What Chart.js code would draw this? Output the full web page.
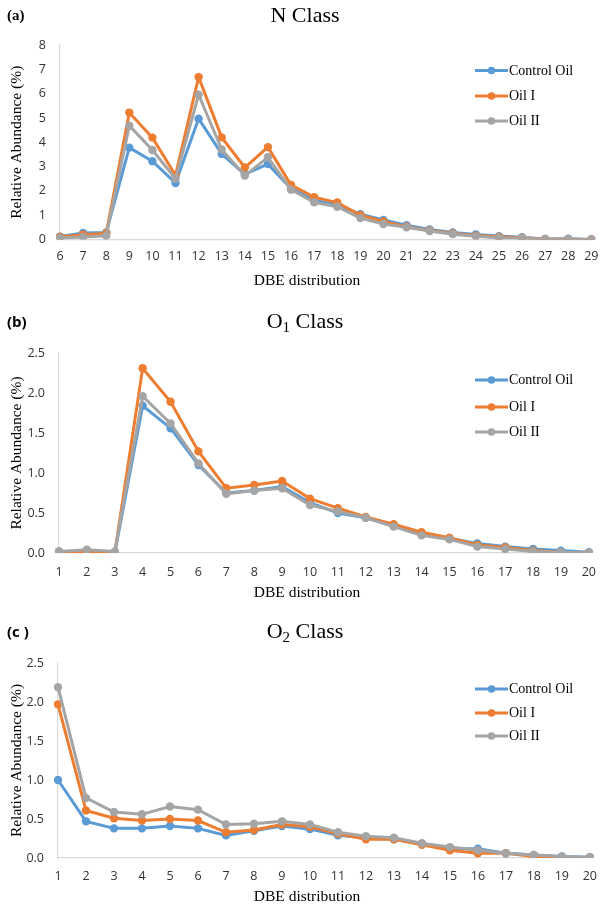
<!DOCTYPE html>
<html>
<head>
<meta charset="utf-8">
<script src="https://cdn.jsdelivr.net/npm/chart.js@4.4.1/dist/chart.umd.min.js"></script>
<style>
  html, body { margin: 0; padding: 0; background: #fff; }
  #wrap { position: relative; width: 608px; height: 906px; overflow: hidden; }
  canvas { position: absolute; left: 0; }
</style>
</head>
<body>
<div id="wrap">
  <canvas id="panelA" width="608" height="300" style="top:0px"></canvas>
  <canvas id="panelB" width="608" height="305" style="top:300px"></canvas>
  <canvas id="panelC" width="608" height="301" style="top:605px"></canvas>
</div>
<script>
// DBE categories
const dbeN = ['6','7','8','9','10','11','12','13','14','15','16','17','18','19','20','21','22','23','24','25','26','27','28','29'];
const dbeO = ['1','2','3','4','5','6','7','8','9','10','11','12','13','14','15','16','17','18','19','20'];

// Series names
const seriesNames = ['Control Oil', 'Oil I', 'Oil II'];

// N class relative abundance (%)
const nControl = [0.12, 0.27, 0.29, 3.78, 3.22, 2.32, 4.97, 3.52, 2.68, 3.10, 2.10, 1.62, 1.42, 1.04, 0.80, 0.59, 0.41, 0.29, 0.21, 0.14, 0.09, 0.02, 0.03, 0.00];
const nOilI    = [0.10, 0.20, 0.25, 5.22, 4.19, 2.64, 6.68, 4.20, 2.96, 3.80, 2.24, 1.74, 1.52, 1.00, 0.74, 0.53, 0.37, 0.25, 0.16, 0.11, 0.07, 0.02, 0.01, 0.00];
const nOilII   = [0.06, 0.10, 0.15, 4.68, 3.68, 2.50, 5.96, 3.70, 2.63, 3.38, 2.05, 1.53, 1.35, 0.88, 0.64, 0.50, 0.35, 0.22, 0.13, 0.07, 0.06, 0.01, 0.01, 0.00];

// O1 class relative abundance (%)
const o1Control = [0.02, 0.01, 0.00, 1.84, 1.56, 1.10, 0.75, 0.78, 0.83, 0.63, 0.50, 0.44, 0.34, 0.24, 0.18, 0.12, 0.08, 0.05, 0.03, 0.01];
const o1OilI    = [0.01, 0.02, 0.00, 2.31, 1.89, 1.27, 0.81, 0.85, 0.90, 0.68, 0.56, 0.45, 0.36, 0.26, 0.19, 0.10, 0.07, 0.03, 0.01, 0.00];
const o1OilII   = [0.02, 0.04, 0.02, 1.96, 1.62, 1.12, 0.74, 0.78, 0.81, 0.60, 0.52, 0.44, 0.33, 0.22, 0.17, 0.08, 0.05, 0.02, 0.01, 0.00];

// O2 class relative abundance (%)
const o2Control = [1.00, 0.47, 0.38, 0.38, 0.41, 0.38, 0.29, 0.35, 0.41, 0.37, 0.29, 0.26, 0.24, 0.18, 0.12, 0.12, 0.06, 0.04, 0.02, 0.01];
const o2OilI    = [1.97, 0.61, 0.51, 0.48, 0.50, 0.48, 0.33, 0.36, 0.43, 0.40, 0.31, 0.24, 0.24, 0.17, 0.10, 0.06, 0.06, 0.02, 0.00, 0.00];
const o2OilII   = [2.19, 0.77, 0.59, 0.56, 0.66, 0.62, 0.43, 0.44, 0.47, 0.43, 0.33, 0.28, 0.26, 0.19, 0.14, 0.10, 0.06, 0.04, 0.02, 0.01];

const COLORS = ['#5B9BD5', '#ED7D31', '#A5A5A5'];
const SERIF = '"Liberation Serif", "Times New Roman", serif';
const SANS = '"Open Sans", "Liberation Sans", sans-serif';

const panels = [
  { canvas: 'panelA', tag: '(a)', tagFont: 'bold 15px ' + SERIF, main: 'N', sub: '', labels: dbeN,
    values: [nControl, nOilI, nOilII], yMax: 8, yStep: 1, decimals: 0,
    area: { left: 60, right: 597, top: 45, bottom: 239.5 }, tickPad: 9.5,
    titleY: 16, tagY: 16, xTitleY: 281, legendY: [70.5, 96, 121] },
  { canvas: 'panelB', tag: '(b)', tagFont: 'bold 15px ' + SANS, main: 'O', sub: '1', labels: dbeO,
    values: [o1Control, o1OilI, o1OilII], yMax: 2.5, yStep: 0.5, decimals: 1,
    area: { left: 59, right: 596, top: 53, bottom: 253 }, tickPad: 12,
    titleY: 22, tagY: 23, xTitleY: 293, legendY: [80, 107, 132] },
  { canvas: 'panelC', tag: '(c )', tagFont: 'bold 15px ' + SANS, main: 'O', sub: '2', labels: dbeO,
    values: [o2Control, o2OilI, o2OilII], yMax: 2.5, yStep: 0.5, decimals: 1,
    area: { left: 58, right: 595.5, top: 58, bottom: 253 }, tickPad: 11,
    titleY: 27, tagY: 28, xTitleY: 292, legendY: [84, 108, 131] }
];

// Titles, panel tags, axis titles and legend
const decorPlugin = {
  id: 'decor',
  afterDraw(chart, args, opts) {
    const p = opts.panel;
    const ctx = chart.ctx;
    const a = chart.chartArea;
    ctx.save();
    ctx.fillStyle = '#000';
    ctx.textBaseline = 'middle';

    // panel tag
    ctx.font = p.tagFont;
    ctx.textAlign = 'left';
    ctx.fillText(p.tag, 7, p.tagY);

    // chart title with optional subscript
    const mainFont = '22px ' + SERIF;
    const subFont = '15px ' + SERIF;
    ctx.font = mainFont;
    const wMain = ctx.measureText(p.main).width;
    const wRest = ctx.measureText(' Class').width;
    ctx.font = subFont;
    const wSub = p.sub ? ctx.measureText(p.sub).width : 0;
    let x = 305 - (wMain + wSub + wRest) / 2;
    ctx.font = mainFont;
    ctx.fillText(p.main, x, p.titleY);
    x += wMain;
    if (p.sub) {
      ctx.font = subFont;
      ctx.fillText(p.sub, x, p.titleY + 6);
      x += wSub;
    }
    ctx.font = mainFont;
    ctx.fillText(' Class', x, p.titleY);

    // axis titles
    ctx.font = '15.5px ' + SERIF;
    ctx.textAlign = 'center';
    ctx.fillText('DBE distribution', 307, p.xTitleY);
    ctx.save();
    ctx.translate(17, (a.top + a.bottom) / 2);
    ctx.rotate(-Math.PI / 2);
    ctx.fillText('Relative Abundance (%)', 0, 0);
    ctx.restore();

    // legend
    ctx.textAlign = 'left';
    ctx.font = '14px ' + SERIF;
    chart.data.datasets.forEach((ds, i) => {
      const y = p.legendY[i];
      ctx.strokeStyle = ds.borderColor;
      ctx.lineWidth = 3;
      ctx.beginPath();
      ctx.moveTo(475, y);
      ctx.lineTo(508, y);
      ctx.stroke();
      ctx.fillStyle = ds.borderColor;
      ctx.beginPath();
      ctx.arc(491.5, y, 3.8, 0, Math.PI * 2);
      ctx.fill();
      ctx.fillStyle = '#000';
      ctx.fillText(ds.label, 509, y + 0.5);
    });
    ctx.restore();
  }
};

panels.forEach(p => {
  const el = document.getElementById(p.canvas);
  const H = el.height;
  new Chart(el, {
    type: 'line',
    data: {
      labels: p.labels,
      datasets: p.values.map((vals, i) => ({
        label: seriesNames[i],
        data: vals,
        borderColor: COLORS[i],
        backgroundColor: COLORS[i],
        borderWidth: 3,
        pointRadius: 4.2,
        pointBorderWidth: 0,
        pointBackgroundColor: COLORS[i],
        tension: 0,
        order: 3 - i
      }))
    },
    options: {
      responsive: false,
      animation: false,
      devicePixelRatio: 1,
      layout: { padding: { left: 0, right: 608 - p.area.right, top: p.area.top, bottom: 0 } },
      plugins: {
        legend: { display: false },
        title: { display: false },
        tooltip: { enabled: false },
        decor: { panel: p }
      },
      scales: {
        x: {
          type: 'category',
          offset: false,
          grid: { display: false, drawTicks: false },
          border: { display: true, color: '#D9D9D9', width: 1.2 },
          ticks: { color: '#333', font: { family: SANS, size: 12.5 }, padding: p.tickPad, maxRotation: 0, autoSkip: false },
          afterFit(scale) { scale.height = H - p.area.bottom; }
        },
        y: {
          min: 0,
          max: p.yMax,
          grid: { display: false, drawTicks: false },
          border: { display: true, color: '#D9D9D9', width: 1.2 },
          ticks: {
            stepSize: p.yStep,
            color: '#333',
            font: { family: SANS, size: 12.5 },
            padding: 14,
            callback: v => Number(v).toFixed(p.decimals)
          },
          afterFit(scale) { scale.width = p.area.left; }
        }
      }
    },
    plugins: [decorPlugin]
  });
});
</script>
</body>
</html>
